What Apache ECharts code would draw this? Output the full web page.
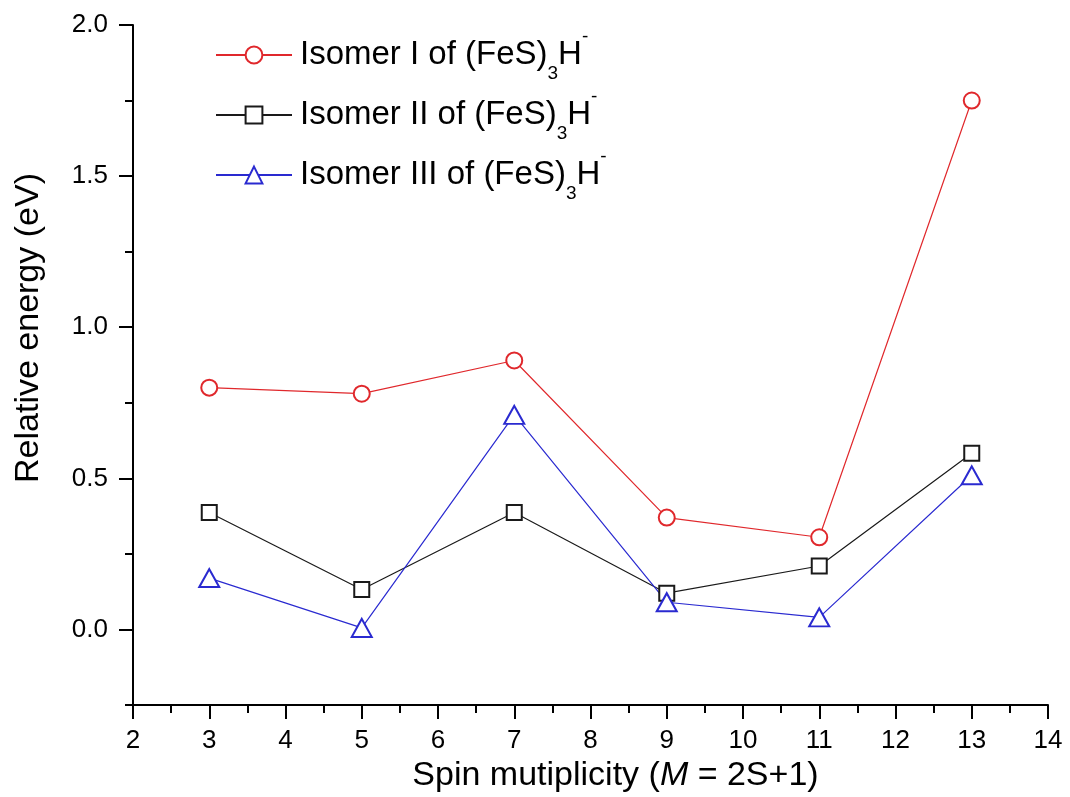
<!DOCTYPE html>
<html>
<head>
<meta charset="utf-8">
<script src="https://cdn.jsdelivr.net/npm/echarts@6/dist/echarts.min.js"></script>
<style>
html, body { margin: 0; padding: 0; background: #fff; }
#chart { width: 1070px; height: 797px; }
</style>
</head>
<body>
<div id="chart"></div>
<script>
// spin multiplicity (M = 2S+1)
var multiplicity = [3, 5, 7, 9, 11, 13];
// relative energies (eV)
var isomerI = [0.80, 0.78, 0.89, 0.37, 0.305, 1.75];
var isomerII = [0.387, 0.132, 0.387, 0.12, 0.21, 0.583];
var isomerIII = [0.17, 0.005, 0.71, 0.09, 0.04, 0.51];
var seriesNames = ['Isomer I', 'Isomer II', 'Isomer III'];
var majorY = [0, 0.5, 1.0, 1.5, 2.0];

function pairs(ys) {
    return multiplicity.map(function (x, i) { return [x, ys[i]]; });
}

var font = '"Liberation Sans", Arial, sans-serif';
var chart = echarts.init(document.getElementById('chart'));

var option = {
    animation: false,
    backgroundColor: '#fff',
    textStyle: { fontFamily: font, color: '#000' },
    grid: { left: 133, right: 22, top: 25, bottom: 92, outerBoundsMode: 'none' },
    legend: {
        orient: 'vertical',
        left: 210,
        top: 22,
        itemWidth: 76,
        itemHeight: 21,
        itemGap: 4,
        data: seriesNames,
        formatter: function (name) {
            return '{a|' + name + ' of (FeS)}{sub|3}{a|H}{sup|-}';
        },
        textStyle: {
            fontFamily: font,
            color: '#000',
            padding: [0, 0, 0, 3],
            rich: {
                a: { fontSize: 33, fontFamily: font, color: '#000', lineHeight: 56 },
                sub: { fontSize: 19, fontFamily: font, color: '#000', lineHeight: 19, verticalAlign: 'bottom' },
                sup: { fontSize: 19, fontFamily: font, color: '#000', lineHeight: 19, verticalAlign: 'top' }
            }
        }
    },
    xAxis: {
        type: 'value',
        min: 2,
        max: 14,
        interval: 1,
        splitLine: { show: false },
        axisLine: { onZero: false, lineStyle: { color: '#000', width: 2 } },
        axisTick: { length: 14, lineStyle: { color: '#000', width: 2 } },
        minorTick: { show: true, splitNumber: 2, length: 8, lineStyle: { color: '#000', width: 2 } },
        axisLabel: { fontSize: 26, color: '#000', fontFamily: font, margin: 23 },
        name: '{n|Spin mutiplicity (}{i|M}{n| = 2S+1)}',
        nameLocation: 'middle',
        nameGap: 38,
        nameTextStyle: {
            padding: [0, 0, 0, 50],
            rich: {
                n: { fontSize: 34, fontFamily: font, color: '#000' },
                i: { fontSize: 34, fontFamily: font, color: '#000', fontStyle: 'italic' }
            }
        }
    },
    yAxis: [{
        type: 'value',
        min: -0.25,
        max: 2,
        interval: 0.25,
        splitLine: { show: false },
        axisLine: { onZero: false, lineStyle: { color: '#000', width: 2 } },
        axisTick: { length: 8, lineStyle: { color: '#000', width: 2 } },
        axisLabel: {
            fontSize: 26, color: '#000', fontFamily: font, margin: 25,
            formatter: function (v) {
                var h = v * 2;
                if (v < 0 || Math.abs(h - Math.round(h)) > 1e-6) return '';
                return v.toFixed(1);
            }
        },
        name: 'Relative energy (eV)',
        nameLocation: 'middle',
        nameGap: 87,
        nameTextStyle: { fontSize: 34, fontFamily: font, color: '#000', padding: [0, 0, 0, 74] }
    }, {
        // second left axis, only for the long major ticks
        type: 'value',
        position: 'left',
        min: -0.25,
        max: 2,
        interval: 0.25,
        splitLine: { show: false },
        axisLine: { show: false },
        axisTick: { length: 14, customValues: majorY, lineStyle: { color: '#000', width: 2 } },
        axisLabel: { show: false }
    }],
    series: [{
        name: seriesNames[0],
        type: 'line',
        data: pairs(isomerI),
        symbol: 'emptyCircle',
        symbolSize: 16,
        color: '#e0282c',
        lineStyle: { width: 1.2, color: '#e0282c' },
        itemStyle: { color: '#e0282c', borderWidth: 1.6 }
    }, {
        name: seriesNames[1],
        type: 'line',
        data: pairs(isomerII),
        symbol: 'emptyRect',
        symbolSize: 15,
        color: '#1a1a1a',
        lineStyle: { width: 1.2, color: '#1a1a1a' },
        itemStyle: { color: '#1a1a1a', borderWidth: 1.6 }
    }, {
        name: seriesNames[2],
        type: 'line',
        data: pairs(isomerIII),
        symbol: 'emptyTriangle',
        symbolSize: [20, 18],
        color: '#2a2ad0',
        lineStyle: { width: 1.2, color: '#2a2ad0' },
        itemStyle: { color: '#2a2ad0', borderWidth: 1.6 }
    }]
};

chart.setOption(option);
</script>
</body>
</html>
